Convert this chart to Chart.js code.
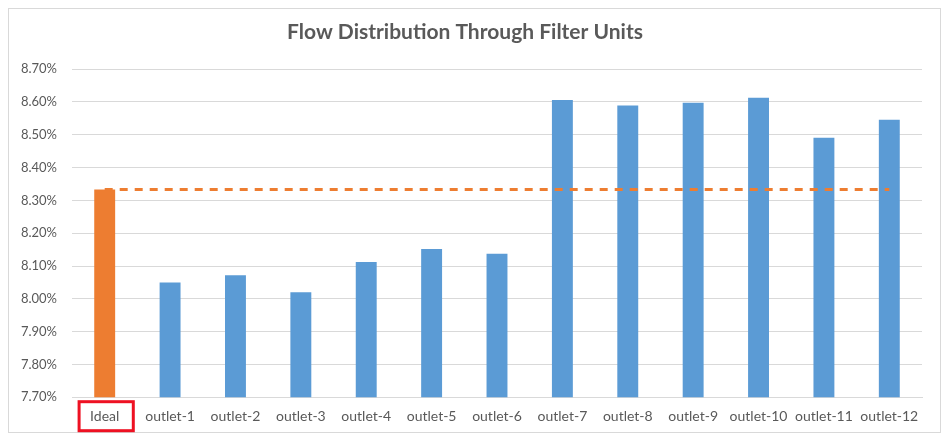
<!DOCTYPE html>
<html>
<head>
<meta charset="utf-8">
<script src="https://cdn.jsdelivr.net/npm/chart.js@4/dist/chart.umd.min.js"></script>
<style>
  html, body { margin: 0; padding: 0; background: #ffffff; }
  #wrap { width: 950px; height: 446px; position: relative; }
</style>
</head>
<body>
<div id="wrap"><canvas id="c" width="950" height="446"></canvas></div>
<script>
// ---- data ----
const categories = ['Ideal', 'outlet-1', 'outlet-2', 'outlet-3', 'outlet-4', 'outlet-5', 'outlet-6',
                    'outlet-7', 'outlet-8', 'outlet-9', 'outlet-10', 'outlet-11', 'outlet-12'];
const flowPercent = [8.333, 8.050, 8.072, 8.020, 8.112, 8.152, 8.137,
                     8.606, 8.589, 8.598, 8.613, 8.491, 8.546];
const idealPercent = 8.333;
const yTickValues = [7.70, 7.80, 7.90, 8.00, 8.10, 8.20, 8.30, 8.40, 8.50, 8.60, 8.70];
const highlightedCategory = 'Ideal';

// ---- styles ----
const ORANGE = '#ED7D31';
const BLUE = '#5B9BD5';
const GRID = '#D9D9D9';
const TEXT = '#595959';
const FONT = 'Lato, "Open Sans", sans-serif';

const barColors = categories.map(c => c === highlightedCategory ? ORANGE : BLUE);
const idealLine = categories.map(() => idealPercent);

const framePlugin = {
  id: 'frame',
  beforeDraw(chart) {
    const ctx = chart.ctx;
    ctx.save();
    ctx.fillStyle = '#ffffff';
    ctx.fillRect(0, 0, chart.width, chart.height);
    ctx.strokeStyle = GRID;
    ctx.lineWidth = 1;
    ctx.strokeRect(8.5, 8.5, chart.width - 18, chart.height - 22);
    ctx.restore();
  },
  afterDraw(chart) {
    const xs = chart.scales.x;
    const idx = categories.indexOf(highlightedCategory);
    if (idx < 0) return;
    const ctx = chart.ctx;
    ctx.save();
    ctx.font = '14px ' + FONT;
    const w = ctx.measureText(highlightedCategory).width;
    const cx = xs.getPixelForTick(idx) + 1.5;
    const cy = chart.chartArea.bottom + 19;
    ctx.strokeStyle = '#EE1122';
    ctx.lineWidth = 3;
    ctx.strokeRect(cx - w / 2 - 12.5, cy - 14.5, w + 25, 29);
    ctx.restore();
  }
};

new Chart(document.getElementById('c'), {
  type: 'bar',
  data: {
    labels: categories,
    datasets: [
      {
        type: 'line',
        label: 'Ideal',
        data: idealLine,
        borderColor: ORANGE,
        borderWidth: 3,
        borderDash: [8, 7],
        pointRadius: 0,
        fill: false,
        order: 0
      },
      {
        type: 'bar',
        label: 'Flow',
        data: flowPercent,
        backgroundColor: barColors,
        borderWidth: 0,
        barPercentage: 0.32,
        categoryPercentage: 1.0,
        order: 1
      }
    ]
  },
  options: {
    responsive: false,
    animation: false,
    devicePixelRatio: 1,
    layout: { padding: { left: 8, right: 28, top: 0, bottom: 10 } },
    plugins: {
      legend: { display: false },
      tooltip: { enabled: false },
      title: {
        display: true,
        text: 'Flow Distribution Through Filter Units',
        color: TEXT,
        font: { family: FONT, size: 21, weight: 'bold' },
        padding: { top: 20, bottom: 24 }
      }
    },
    scales: {
      x: {
        type: 'category',
        grid: { display: false, drawTicks: false },
        border: { display: true, color: GRID, width: 1 },
        ticks: { color: TEXT, font: { family: FONT, size: 14 }, padding: 11, maxRotation: 0, autoSkip: false }
      },
      y: {
        min: yTickValues[0],
        max: yTickValues[yTickValues.length - 1],
        afterBuildTicks(axis) { axis.ticks = yTickValues.map(v => ({ value: v })); },
        afterFit(axis) { axis.width = 64; },
        grid: { color: GRID, lineWidth: 1, drawTicks: false },
        border: { display: false },
        ticks: {
          color: TEXT,
          font: { family: FONT, size: 13 },
          padding: 15,
          callback: v => Number(v).toFixed(2) + '%'
        }
      }
    }
  },
  plugins: [framePlugin]
});
</script>
</body>
</html>
